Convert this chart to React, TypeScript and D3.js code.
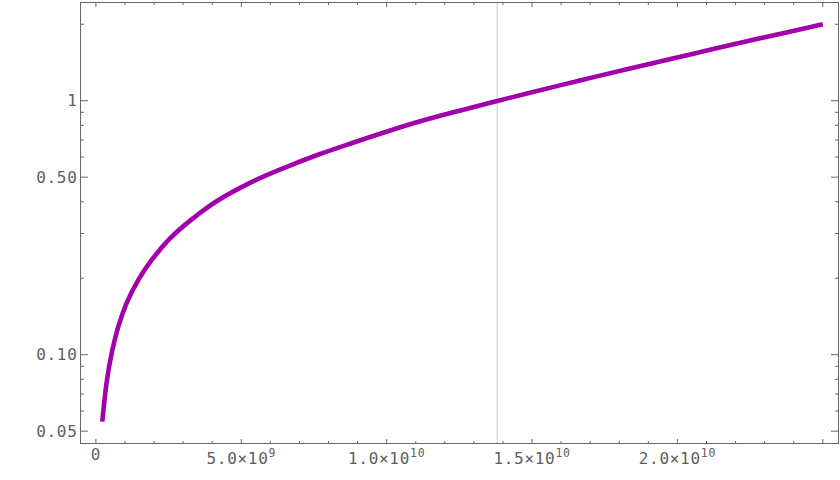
import React from "react";
import * as d3 from "d3";

// Curve: time (years) vs value (log axis)
const timeYears = [
  0.22e9, 0.37e9, 0.54e9, 0.77e9, 1.06e9, 1.46e9, 1.92e9, 2.5e9, 3.0e9, 4.15e9,
  5.3e9, 6.44e9, 7.59e9, 8.74e9, 10.92e9, 12.64e9, 13.84e9, 14.93e9,
  16.65e9, 18.26e9, 20.55e9, 22.84e9, 25.0e9,
];
const values = [
  0.0545, 0.078, 0.101, 0.129, 0.16, 0.197, 0.236, 0.283, 0.32, 0.402,
  0.475, 0.542, 0.61, 0.677, 0.815, 0.922, 1.0, 1.075,
  1.202, 1.33, 1.532, 1.76, 2.0,
];
const markerTime = 1.38e10;

const xMajorTicks = [0, 5e9, 1e10, 1.5e10, 2e10, 2.5e10];
const xMantissa = ["0", "5.0", "1.0", "1.5", "2.0", ""];
const xExponent = ["", "9", "10", "10", "10", ""];
const xMinorTicks = d3.range(1, 26).map((k) => k * 1e9).filter((v) => !xMajorTicks.includes(v));

const yMajorTicks = [0.05, 0.1, 0.5, 1];
const yTickLabels = ["0.05", "0.10", "0.50", "1"];
const yMinorTicks = [0.06, 0.07, 0.08, 0.09, 0.2, 0.3, 0.4, 0.6, 0.7, 0.8, 0.9, 2];

const W = 840;
const H = 480;
const L = 80.5, R = 838.5, T = 2.5, B = 443.5;

export default function App() {
  const x = d3.scaleLinear().domain([-0.53e9, 25.54e9]).range([L, R]);
  const y = d3.scaleLog().domain([0.0449, 2.436]).range([443, 2.5]);

  const line = d3
    .line<number>()
    .x((_, i) => x(timeYears[i]))
    .y((d) => y(d))
    .curve(d3.curveCatmullRom.alpha(0.5));

  const frame = "#666666";
  const textColor = "#5e5e5e";
  const font = "'DejaVu Sans Mono', monospace";
  const fs = 16;
  const ls = 0.7;
  const xMajLen = 4.5, xMinLen = 2.5, yMajLen = 7.5, yMinLen = 3.5;

  return (
    <svg
      width={W}
      height={H}
      style={{ position: "absolute", left: 0, top: 0, background: "#fff" }}
    >
      <line x1={x(markerTime)} x2={x(markerTime)} y1={T} y2={B} stroke="#c6c6c6" strokeWidth={1} />
      <path d={line(values) || ""} fill="none" stroke="#a100ab" strokeWidth={4.6} strokeLinecap="butt" strokeLinejoin="round" />
      <rect x={L} y={T} width={R - L} height={B - T} fill="none" stroke={frame} strokeWidth={1} />
      {xMajorTicks.map((v) => (
        <g key={"xM" + v}>
          <line x1={x(v)} x2={x(v)} y1={B} y2={B - xMajLen} stroke={frame} />
          <line x1={x(v)} x2={x(v)} y1={T} y2={T + xMajLen} stroke={frame} />
        </g>
      ))}
      {xMinorTicks.map((v) => (
        <g key={"xm" + v}>
          <line x1={x(v)} x2={x(v)} y1={B} y2={B - xMinLen} stroke={frame} />
          <line x1={x(v)} x2={x(v)} y1={T} y2={T + xMinLen} stroke={frame} />
        </g>
      ))}
      {yMajorTicks.map((v) => (
        <g key={"yM" + v}>
          <line x1={L} x2={L + yMajLen} y1={y(v)} y2={y(v)} stroke={frame} />
          <line x1={R} x2={R - yMajLen} y1={y(v)} y2={y(v)} stroke={frame} />
        </g>
      ))}
      {yMinorTicks.map((v) => (
        <g key={"ym" + v}>
          <line x1={L} x2={L + yMinLen} y1={y(v)} y2={y(v)} stroke={frame} />
          <line x1={R} x2={R - yMinLen} y1={y(v)} y2={y(v)} stroke={frame} />
        </g>
      ))}
      {yMajorTicks.map((v, i) => (
        <text key={"yl" + v} x={77.5} y={y(v)} dy="0.36em" textAnchor="end" fontFamily={font} fontSize={fs} letterSpacing={ls} fill={textColor}>
          {yTickLabels[i]}
        </text>
      ))}
      {xMajorTicks.map((v, i) =>
        xMantissa[i] === "" ? null : (
          <text
            key={"xl" + v}
            x={x(v)}
            y={xExponent[i] ? 464 : 459.5}
            textAnchor="middle"
            fontFamily={font}
            fontSize={fs}
            letterSpacing={ls}
            fill={textColor}
          >
            {xExponent[i] ? (
              <>
                {xMantissa[i]}
                <tspan>×10</tspan>
                <tspan dy={-7.3} fontSize={11.5}>{xExponent[i]}</tspan>
              </>
            ) : (
              xMantissa[i]
            )}
          </text>
        )
      )}
    </svg>
  );
}
